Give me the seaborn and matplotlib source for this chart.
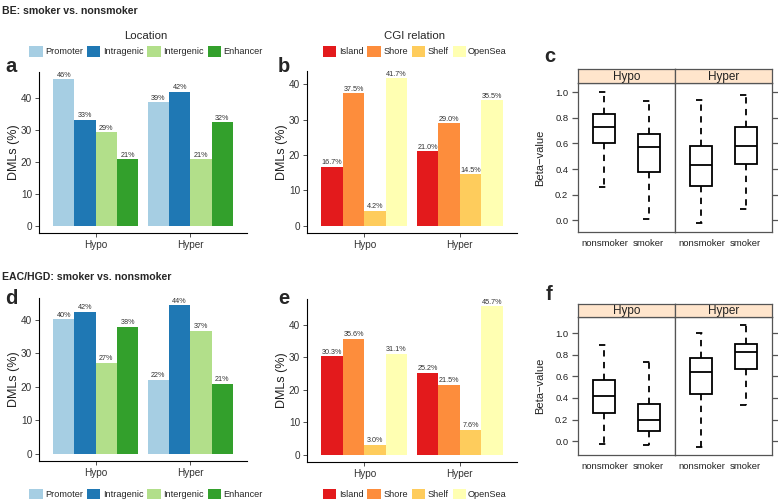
import numpy as np
import pandas as pd
import matplotlib
matplotlib.use("Agg")
import matplotlib.pyplot as plt
import seaborn as sns

# ---------------- data ----------------
groups = ["Hypo", "Hyper"]
locations = ["Promoter", "Intragenic", "Intergenic", "Enhancer"]
cgi = ["Island", "Shore", "Shelf", "OpenSea"]
status = ["nonsmoker", "smoker"]

# DML percentages (Hypo values then Hyper values)
be_location = [45.8, 33.2, 29.2, 20.8, 38.6, 41.9, 20.8, 32.3]
be_cgi = [16.7, 37.5, 4.2, 41.7, 21.0, 29.0, 14.5, 35.5]
eac_location = [40.2, 42.4, 27.2, 38.0, 22.1, 44.4, 36.8, 20.9]
eac_cgi = [30.3, 35.6, 3.0, 31.1, 25.2, 21.5, 7.6, 45.7]

# box stats: whisker low, q1, median, q3, whisker high
be_box = {
    ("Hypo", "nonsmoker"): [0.26, 0.60, 0.73, 0.83, 1.00],
    ("Hypo", "smoker"): [0.01, 0.38, 0.57, 0.67, 0.93],
    ("Hyper", "nonsmoker"): [-0.02, 0.27, 0.43, 0.58, 0.94],
    ("Hyper", "smoker"): [0.09, 0.44, 0.58, 0.73, 0.98],
}
eac_box = {
    ("Hypo", "nonsmoker"): [-0.03, 0.26, 0.42, 0.57, 0.89],
    ("Hypo", "smoker"): [-0.04, 0.09, 0.20, 0.34, 0.73],
    ("Hyper", "nonsmoker"): [-0.05, 0.44, 0.64, 0.77, 1.00],
    ("Hyper", "smoker"): [0.33, 0.67, 0.82, 0.90, 1.07],
}

loc_colors = ["#a6cee3", "#1f78b4", "#b2df8a", "#33a02c"]
cgi_colors = ["#e31a1c", "#fd8d3c", "#fecc5c", "#ffffb2"]
STRIP = "#ffe5cc"

sns.set_theme(style="ticks")
plt.rcParams["font.family"] = ["Liberation Sans", "DejaVu Sans"]

W, H = 778, 504
fig = plt.figure(figsize=(W / 100, H / 100), dpi=100)


def px(l, t, r, b):
    return [l / W, 1 - b / H, (r - l) / W, (b - t) / H]


def long_df(values, cats, name):
    rows = []
    for i, g in enumerate(groups):
        for j, c in enumerate(cats):
            rows.append({"group": g, name: c, "pct": values[i * len(cats) + j]})
    return pd.DataFrame(rows)


def bar_panel(rect, values, cats, name, colors, fmt, legend_pos, legend_title):
    ax = fig.add_axes(px(*rect))
    df = long_df(values, cats, name)
    sns.barplot(data=df, x="group", y="pct", hue=name, order=groups,
                hue_order=cats, palette=colors, width=0.9, gap=0,
                saturation=1, linewidth=0, ax=ax)
    for cont in ax.containers:
        ax.bar_label(cont, fmt=fmt, padding=0.5, fontsize=5.2, color="#333333")
    top = max(values)
    ax.set_ylim(-0.05 * top, 1.05 * top)
    ax.set_xlim(-0.6, 1.6)
    ax.set_yticks([0, 10, 20, 30, 40])
    ax.set_xlabel("")
    ax.set_ylabel("")
    sns.despine(ax=ax)
    for s in ["left", "bottom"]:
        ax.spines[s].set_linewidth(0.8)
        ax.spines[s].set_color("black")
    ax.tick_params(labelsize=7.2, length=3, width=0.6, pad=2,
                   colors="#333333", labelcolor="#333333")
    cy = (rect[1] + rect[3]) / 2
    fig.text((rect[0] - 25) / W, 1 - cy / H, "DMLs (%)", rotation=90,
             ha="center", va="center", fontsize=9, color="#222222")
    handles, labels = ax.get_legend_handles_labels()
    ax.legend(handles, labels, loc="center", ncol=4,
              bbox_to_anchor=(legend_pos[0] / W, 1 - legend_pos[1] / H),
              bbox_transform=fig.transFigure, frameon=False,
              title=legend_title, fontsize=6.6, title_fontsize=8.2,
              handlelength=1.45, handleheight=1.45, handletextpad=0.25,
              columnspacing=0.45, borderpad=0.2)
    return ax


def box_panel(l, r, mid, strip_t, t, b, stats):
    rows = []
    for (g, s), v in stats.items():
        for x in v:
            rows.append({"group": g, "status": s, "beta": x})
    df = pd.DataFrame(rows)
    lo, hi = df["beta"].min(), df["beta"].max()
    pad = 0.07 * (hi - lo)
    edges = [(l, mid), (mid, r)]
    for k, g in enumerate(groups):
        ax = fig.add_axes(px(edges[k][0], t, edges[k][1], b))
        sns.boxplot(data=df[df["group"] == g], x="status", y="beta",
                    order=status, whis=(0, 100), width=0.5, color="white",
                    linecolor="black", linewidth=1.3, ax=ax,
                    whiskerprops=dict(linestyle=(0, (3.5, 3))),
                    capprops=dict(linestyle=(0, (3.5, 3))),
                    medianprops=dict(color="black"))
        ax.set_xlim(-0.6, 1.6)
        ax.set_ylim(lo - pad, hi + pad)
        ax.set_yticks([0, 0.2, 0.4, 0.6, 0.8, 1.0])
        ax.set_xlabel("")
        ax.set_ylabel("")
        for s in ax.spines.values():
            s.set_color("#555555")
            s.set_linewidth(0.9)
        ax.tick_params(axis="x", length=0, labelsize=6.8, pad=5,
                       labelcolor="#222222")
        if k == 0:
            ax.tick_params(axis="y", length=4, width=0.9, color="#555555",
                           labelsize=6.8, labelcolor="#222222", pad=3)
            ax.set_yticklabels(["0.0", "0.2", "0.4", "0.6", "0.8", "1.0"])
        else:
            ax.yaxis.tick_right()
            ax.tick_params(axis="y", length=4, width=0.9, color="#555555",
                           labelright=False)
        st = fig.add_axes(px(edges[k][0], strip_t, edges[k][1], t))
        st.set_facecolor(STRIP)
        st.set_xticks([])
        st.set_yticks([])
        for s in st.spines.values():
            s.set_color("#555555")
            s.set_linewidth(0.9)
        st.text(0.5, 0.45, g, ha="center", va="center", fontsize=8.5,
                color="#222222", transform=st.transAxes)
    fig.text(540 / W, 1 - ((t + b) / 2) / H, "Beta\u2212value", rotation=90,
             ha="center", va="center", fontsize=8, color="#222222")


# ---------------- BE ----------------
fig.text(2 / W, 1 - 11 / H, "BE: smoker vs. nonsmoker", fontsize=7.6,
         fontweight="bold", va="center", ha="left")
bar_panel((39, 72, 247, 233), be_location, locations, "Location",
          loc_colors, "%.0f%%", (146, 44), "Location")
bar_panel((307, 71, 517, 233), be_cgi, cgi, "CGI", cgi_colors,
          "%.1f%%", (415, 44), "CGI relation")
box_panel(578, 772, 675, 69, 83, 232, be_box)

# ---------------- EAC/HGD ----------------
fig.text(2 / W, 1 - 277 / H, "EAC/HGD: smoker vs. nonsmoker", fontsize=7.6,
         fontweight="bold", va="center", ha="left")
bar_panel((39, 298, 247, 461), eac_location, locations, "Location",
          loc_colors, "%.0f%%", (146, 494), None)
bar_panel((307, 299, 517, 462), eac_cgi, cgi, "CGI", cgi_colors,
          "%.1f%%", (415, 494), None)
box_panel(578, 772, 675, 304, 317, 455, eac_box)

# panel letters
for lab, x, y in [("a", 11.5, 66), ("b", 284, 66), ("c", 550, 57),
                  ("d", 11.5, 298), ("e", 284, 298), ("f", 549, 294)]:
    fig.text(x / W, 1 - y / H, lab, fontsize=14.5, fontweight="bold",
             ha="center", va="center")

fig.savefig("out.png", dpi=100)
